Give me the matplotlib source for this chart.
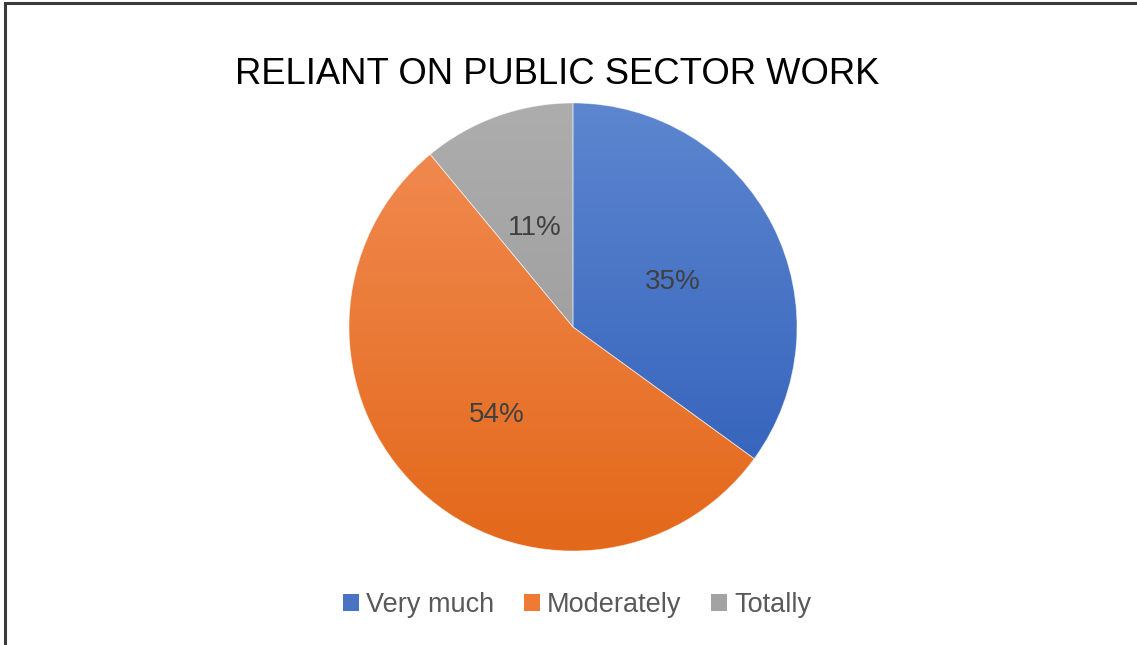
import matplotlib.pyplot as plt
import matplotlib.patches as mpatches
import numpy as np
from matplotlib.colors import LinearSegmentedColormap

labels = ["Very much", "Moderately", "Totally"]
shares = [35, 54, 11]
title = "RELIANT ON PUBLIC SECTOR WORK"

# top / bottom colours of each slice's vertical gradient
tops = ["#5D86CF", "#F28D55", "#ADADAD"]
bottoms = ["#2E5DB9", "#E3681A", "#959595"]

W, H = 1137, 645
fig = plt.figure(figsize=(W / 100, H / 100), dpi=100)

# outer frame (right and bottom sides fall outside the image)
fig.patches.append(mpatches.Rectangle((5 / W, -0.1), 1.2, 1 - 3 / H + 0.1,
                                      transform=fig.transFigure, fill=False,
                                      edgecolor="#3a3a3a", linewidth=2.2))

cx, cy, r = 573, 327, 224
ax = fig.add_axes([(cx - r) / W, (H - cy - r) / H, 2 * r / W, 2 * r / H])

wedges, texts = ax.pie(shares, startangle=90, counterclock=False, radius=1,
                       wedgeprops=dict(facecolor="none", edgecolor="none"))
ax.set_xlim(-1, 1)
ax.set_ylim(-1, 1)
ax.axis("off")

grad = np.linspace(0, 1, 256).reshape(-1, 1)
for w, c0, c1 in zip(wedges, tops, bottoms):
    cmap = LinearSegmentedColormap.from_list("g", [c0, c1])
    im = ax.imshow(grad, cmap=cmap, extent=(-1, 1, -1, 1), aspect="auto",
                   origin="upper", zorder=1)
    im.set_clip_path(w)
    w.set_zorder(2)
    w.set_edgecolor("white")
    w.set_linewidth(0.6)
    w.set_alpha(0.5)

# percentage labels inside the slices
for w, s in zip(wedges, shares):
    mid = np.deg2rad((w.theta1 + w.theta2) / 2)
    d = 0.5
    ax.text(d * np.cos(mid), d * np.sin(mid) - 0.027, f"{s}%", ha="center",
            va="center", fontsize=20, color="#404040", family="Liberation Sans",
            zorder=3)

fig.text(557 / W, 1 - 75 / H, title, ha="center", va="center", fontsize=26.2,
         family="Liberation Sans", color="black")

handles = [mpatches.Patch(facecolor=c) for c in ["#4A73C4", "#EE7A35", "#A3A3A3"]]
fig.legend(handles, labels, loc="center", bbox_to_anchor=(577 / W, 1 - 605 / H),
           ncol=3, frameon=False, handlelength=0.6, handleheight=0.6,
           handletextpad=0.25, columnspacing=1.1,
           prop=dict(family="Liberation Sans", size=19.5), labelcolor="#595959")

fig.savefig("out.png", dpi=100)
